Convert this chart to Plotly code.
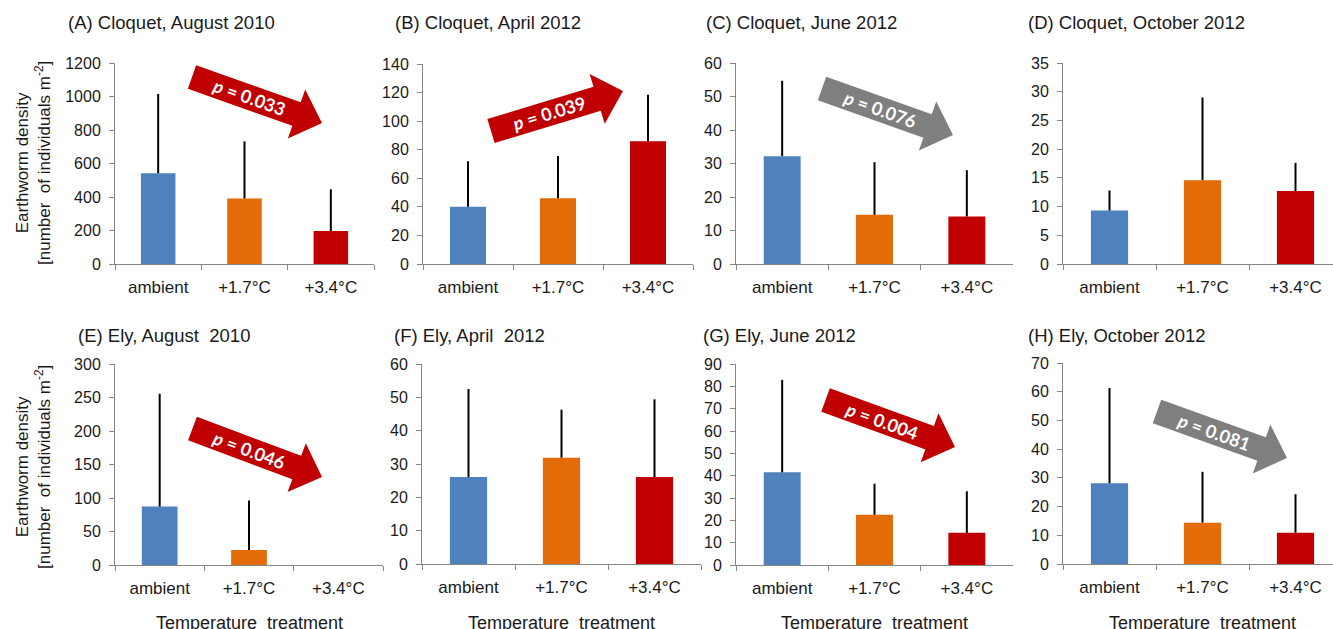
import math
import plotly.graph_objects as go

# ---------------- data ----------------
categories = ["ambient", "+1.7°C", "+3.4°C"]
panel_titles = [
    "(A) Cloquet, August 2010", "(B) Cloquet, April 2012",
    "(C) Cloquet, June 2012", "(D) Cloquet, October 2012",
    "(E) Ely, August  2010", "(F) Ely, April  2012",
    "(G) Ely, June 2012", "(H) Ely, October 2012",
]
mean_A = [542, 391, 197]
err_A = [473, 341, 249]
mean_B = [40.1, 46.0, 85.9]
err_B = [31.8, 29.6, 32.6]
mean_C = [32.2, 14.7, 14.2]
err_C = [22.5, 15.7, 13.8]
mean_D = [9.3, 14.6, 12.7]
err_D = [3.5, 14.4, 4.9]
mean_E = [87.2, 22.4, 0]
err_E = [168.4, 73.8, 0]
mean_F = [26.1, 31.9, 26.1]
err_F = [26.4, 14.4, 23.3]
mean_G = [41.5, 22.5, 14.4]
err_G = [41.4, 13.9, 18.6]
mean_H = [28.1, 14.4, 10.9]
err_H = [33.2, 17.7, 13.4]
y_max = [1200, 140, 60, 35, 300, 60, 90, 70]
y_step = [200, 20, 10, 5, 50, 10, 10, 10]
p_values = ["0.033", "0.039", "0.076", None, "0.046", None, "0.004", "0.081"]

means = [mean_A, mean_B, mean_C, mean_D, mean_E, mean_F, mean_G, mean_H]
errs = [err_A, err_B, err_C, err_D, err_E, err_F, err_G, err_H]

# ---------------- layout geometry (pixels) ----------------
W, H = 1333, 629
bar_colors = ["#4F81BD", "#E36C09", "#C00000"]
RED, GRAY = "#C00000", "#7F7F7F"
AXC = "#868686"
TXT = "#1a1a1a"
FONT = "Liberation Sans, Arial, sans-serif"

# (x0, x1, ytop, ybottom)
boxes = [
    (115, 374, 63, 264), (423, 693, 64, 264), (736, 1013, 63, 264), (1063, 1342, 63, 264),
    (115, 383, 364, 565), (422, 701, 364, 564), (736, 1013, 364, 565), (1063, 1342, 363, 564),
]
title_pos = [(66, 23), (393, 23), (704, 23), (1026, 23), (76, 335), (392, 335), (701, 335), (1026, 335)]
# arrows: tail middle, tip, colour
arrows = {
    0: ((192, 77), (322, 123), RED),
    1: ((491, 131), (623, 91), RED),
    2: ((822, 88.5), (953, 135), GRAY),
    4: ((192.5, 428.5), (322, 477), RED),
    6: ((825.5, 400), (955, 447), RED),
    7: ((1157, 411.5), (1287, 458), GRAY),
}


def fx(px):
    return px / W


def fy(py):
    return 1 - py / H


fig = go.Figure()
annotations = []
shapes = []

for i in range(8):
    x0, x1, yt, yb = boxes[i]
    cw = (x1 - x0) / 3.0
    x1c = min(x1, W)
    xr_end = -0.5 + (x1c - x0) / cw
    sfx = "" if i == 0 else str(i + 1)
    fig.add_trace(go.Bar(
        x=categories, y=means[i],
        marker=dict(color=bar_colors, line=dict(width=0)),
        error_y=dict(type="data", array=errs[i], arrayminus=[0, 0, 0], symmetric=False,
                     color="black", thickness=2, width=0),
        xaxis="x" + sfx, yaxis="y" + sfx, showlegend=False, hoverinfo="skip",
    ))
    fig.layout["xaxis" + sfx] = dict(
        domain=[fx(x0), fx(x1c)], anchor="y" + sfx, type="category", automargin=False,
        range=[-0.5, xr_end], showgrid=False, zeroline=False,
        showline=True, linecolor=AXC, linewidth=1,
        ticks="outside", tickson="boundaries", ticklen=5, tickcolor=AXC,
        tickfont=dict(family=FONT, size=17, color=TXT), ticklabelstandoff=8,
    )
    fig.layout["yaxis" + sfx] = dict(
        domain=[fy(yb), fy(yt)], anchor="x" + sfx, automargin=False,
        range=[0, y_max[i]], dtick=y_step[i], tick0=0,
        showgrid=False, zeroline=False, showline=True, linecolor=AXC, linewidth=1,
        ticks="outside", ticklen=5, tickcolor=AXC,
        tickfont=dict(family=FONT, size=16, color=TXT), ticklabelstandoff=5,
    )
    tx, ty = title_pos[i]
    annotations.append(dict(text=panel_titles[i], x=fx(tx), y=fy(ty), xref="paper", yref="paper",
                            xanchor="left", yanchor="middle", showarrow=False,
                            font=dict(family=FONT, size=18.5, color=TXT)))
    if i >= 4:
        annotations.append(dict(text="Temperature  treatment", x=fx((x0 + x1) / 2), y=fy(623),
                                xref="paper", yref="paper", xanchor="center", yanchor="middle",
                                showarrow=False, font=dict(family=FONT, size=18, color=TXT)))
    if i in arrows:
        (ax, ay), (bx, by), col = arrows[i]
        L = math.hypot(bx - ax, by - ay)
        ux, uy = (bx - ax) / L, (by - ay) / L
        nx, ny = -uy, ux
        bw, hw, hl = 12.5, 26, 27
        cx, cy = bx - ux * hl, by - uy * hl
        pts = [
            (ax + nx * bw, ay + ny * bw), (cx + nx * bw, cy + ny * bw), (cx + nx * hw, cy + ny * hw),
            (bx, by), (cx - nx * hw, cy - ny * hw), (cx - nx * bw, cy - ny * bw),
            (ax - nx * bw, ay - ny * bw),
        ]
        path = "M " + " L ".join(f"{fx(p[0]):.5f},{fy(p[1]):.5f}" for p in pts) + " Z"
        shapes.append(dict(type="path", path=path, xref="paper", yref="paper",
                           fillcolor=col, line=dict(width=0), layer="above"))
        ang = math.degrees(math.atan2(by - ay, bx - ax))
        mx, my = ax + ux * L * 0.44, ay + uy * L * 0.44
        annotations.append(dict(text=f"<b><i>p</i> = {p_values[i]}</b>", x=fx(mx), y=fy(my),
                                xref="paper", yref="paper", xanchor="center", yanchor="middle",
                                textangle=ang, showarrow=False,
                                font=dict(family="Lato, Open Sans, sans-serif", size=18, color="white")))

# y-axis titles
for yc in (163, 467):
    annotations.append(dict(text="Earthworm density<br>[number  of individuals m<sup>-2</sup>]",
                            x=fx(33), y=fy(yc), xref="paper", yref="paper",
                            xanchor="center", yanchor="middle", textangle=-90, showarrow=False,
                            font=dict(family=FONT, size=17, color=TXT)))

fig.update_layout(
    width=W, height=H, autosize=False,
    margin=dict(l=0, r=0, t=0, b=0, pad=0, autoexpand=False),
    paper_bgcolor="white", plot_bgcolor="white",
    bargap=0.6, annotations=annotations, shapes=shapes,
)

fig.write_html("out.html", config={"displayModeBar": False},
               post_script="document.body.style.margin='0';document.body.style.overflow='hidden';")
